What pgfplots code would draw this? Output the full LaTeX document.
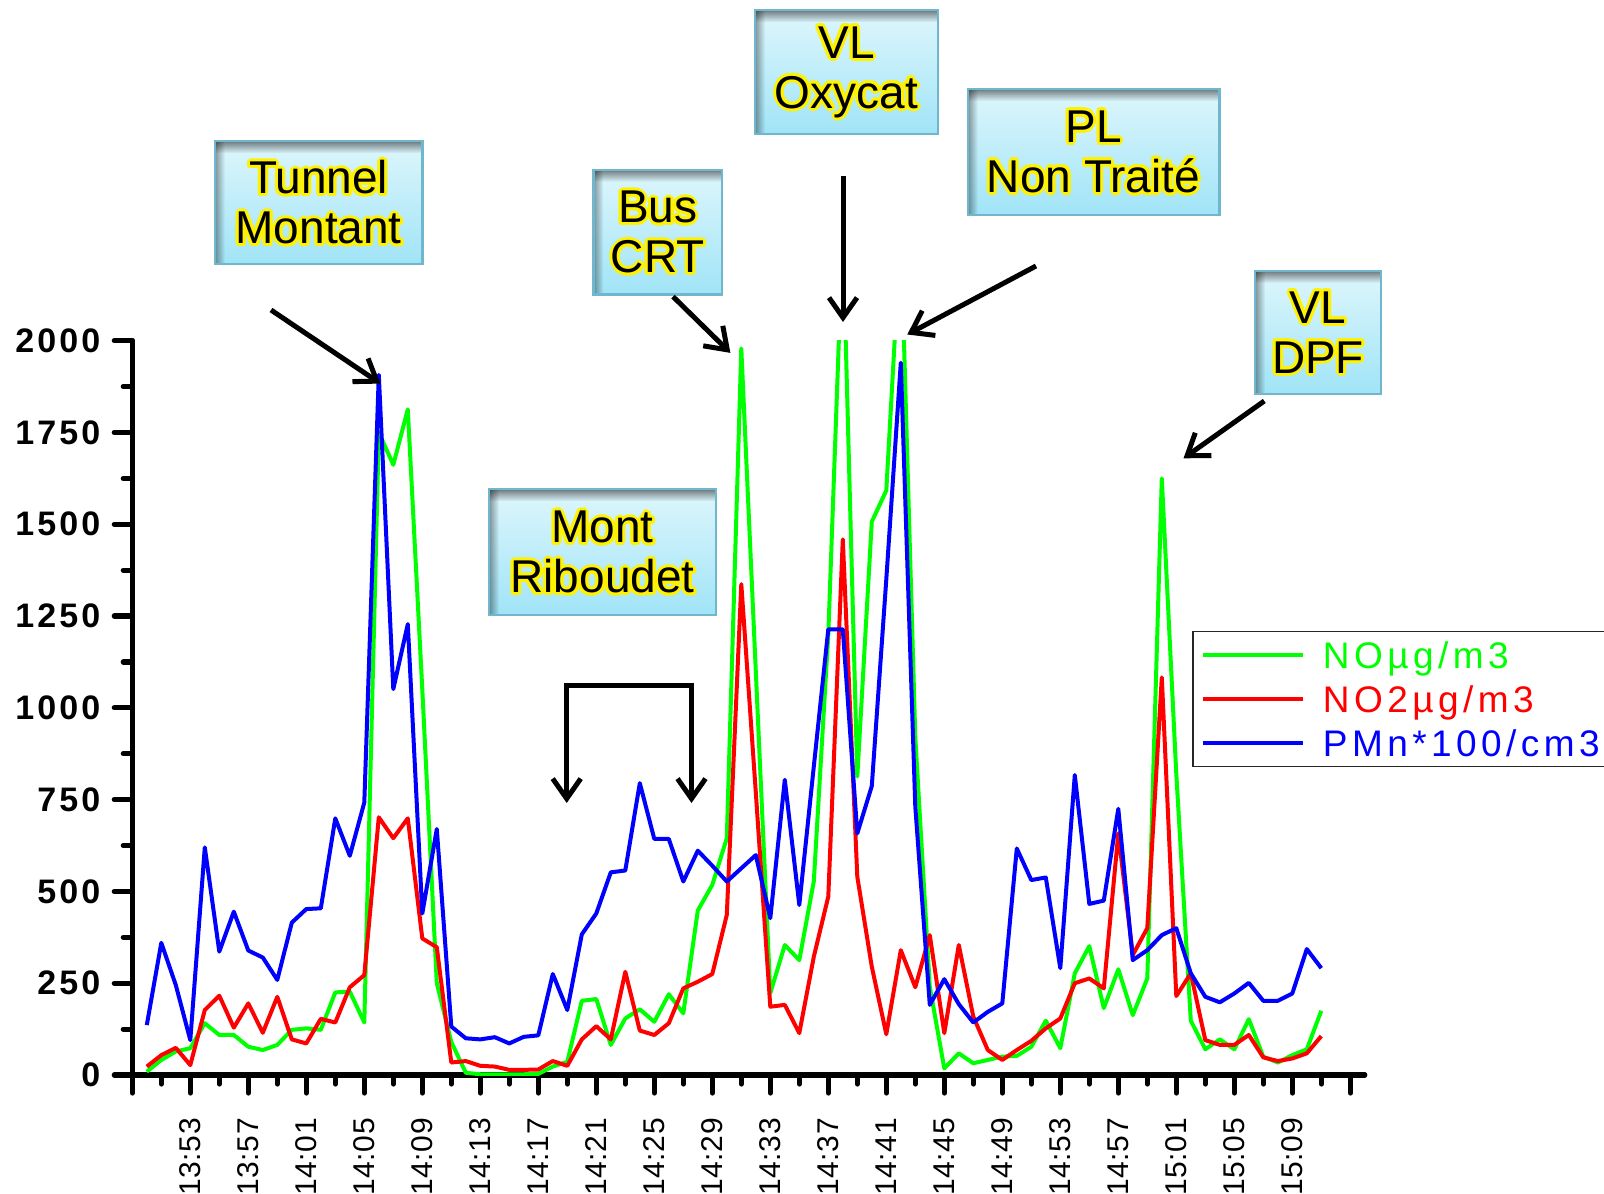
\documentclass[border=0pt]{standalone}
\usepackage{pgfplots}
\usepackage{pgfplotstable}
\pgfplotsset{compat=1.18}
\usepackage{fontspec}
\setmainfont{Liberation Sans}
\usetikzlibrary{arrows.meta,fadings}
\definecolor{cgreen}{RGB}{0,255,0}
\definecolor{cred}{RGB}{255,0,0}
\definecolor{cblue}{RGB}{0,0,255}
\definecolor{boxtop}{RGB}{222,246,252}
\definecolor{boxbot}{RGB}{160,228,247}
\definecolor{boxedge}{RGB}{112,182,204}

\pgfplotstableread{
m NO NO2 PM
1 9 23 136
2 41 54 360
3 64 74 245
4 73 27 95
5 141 177 620
6 109 216 336
7 109 129 445
8 77 195 339
9 68 115 320
10 82 213 259
11 123 97 415
12 127 86 452
13 123 153 454
14 225 143 699
15 227 239 597
16 143 272 742
17 1750 702 1907
18 1662 645 1051
19 1813 699 1228
20 1050 372 440
21 250 348 670
22 90 34 132
23 6 38 100
24 2 25 97
25 2 23 103
26 2 14 86
27 2 14 104
28 3 15 108
29 23 38 275
30 36 25 177
31 202 97 383
32 207 133 440
33 82 97 552
34 154 281 557
35 179 121 795
36 145 109 643
37 220 141 643
38 168 236 527
39 448 254 611
40 518 275 570
41 645 436 527
42 1979 1337 563
43 1100 770 599
44 223 186 427
45 354 191 804
46 313 114 463
47 527 322 840
48 1200 486 1214
49 2300 1459 1214
50 813 540 658
51 1507 295 787
52 1592 111 1350
53 2300 340 1940
54 920 239 731
55 240 381 191
56 18 114 261
57 59 354 193
58 32 159 143
59 41 68 172
60 50 41 195
61 52 68 617
62 77 93 531
63 148 127 538
64 73 154 291
65 277 250 817
66 351 263 466
67 182 236 475
68 288 658 725
69 163 327 313
70 263 400 340
71 1625 1083 381
72 820 215 400
73 148 277 277
74 70 95 213
75 97 82 198
76 70 82 222
77 152 109 251
78 50 48 202
79 34 38 202
80 54 45 222
81 70 59 343
82 175 106 291
}\datatable

\newcommand\annofont{\fontsize{23}{25}\selectfont}
\newcommand\annobox[6]{%
  \shade[top color=boxtop,bottom color=boxbot] (#1,#2) rectangle (#3,#4);
  \fill[black,opacity=0.5,path fading=south] (#1,#2) rectangle (#3,#2+12);
  \fill[black,opacity=0.4,path fading=east] (#1,#2) rectangle (#1+10,#4);
  \draw[boxedge,line width=1.2pt] (#1,#2) rectangle (#3,#4);
  \foreach \a in {0,30,...,330}{%
    \node[text=yellow,align=center,font=\annofont,xshift={1.5pt*cos(\a)},yshift={1.5pt*sin(\a)}] at ({(#1+#3)/2},{(#2+#4)/2}) {#5\\#6};}
  \node[text=black,align=center,font=\annofont] at ({(#1+#3)/2},{(#2+#4)/2}) {#5\\#6};
}

\begin{document}
\begin{tikzpicture}
\begin{axis}[
  at={(0pt,0pt)}, anchor=south west,
  scale only axis, width=616.25pt, height=367.15pt,
  xmin=0, xmax=85, ymin=0, ymax=2000,
  axis lines=left,
  axis line style={-, line width=2.6pt, line cap=round},
  tick align=outside,
  major tick length=9pt, minor tick length=4.5pt,
  every tick/.style={black, line width=2.6pt, line cap=round},
  xtick={0,4,...,84},
  xticklabels={,13:53,13:57,14:01,14:05,14:09,14:13,14:17,14:21,14:25,14:29,14:33,14:37,14:41,14:45,14:49,14:53,14:57,15:01,15:05,15:09,},
  minor x tick num=1,
  ytick={0,250,...,2000},
  minor y tick num=1,
  /pgf/number format/1000 sep={},
  /pgf/number format/assume math mode=true,
  xticklabel style={rotate=90, anchor=east, font=\fontsize{15}{15}\selectfont\addfontfeatures{LetterSpace=2}, xshift=-9pt},
  yticklabel style={font=\bfseries\fontsize{17}{17}\selectfont\addfontfeatures{LetterSpace=9}, xshift=-3.5pt},
  clip mode=individual,
  legend style={at={(0.86,0.605)}, anchor=north west, draw=black!85, line width=0.7pt,
    font=\fontsize{18.5}{18.5}\selectfont\addfontfeatures{LetterSpace=12},
    row sep=1.5pt, inner xsep=4pt, inner ysep=1.5pt,
    nodes={text height=15.5pt, text depth=2pt, inner ysep=1.5pt, inner xsep=3pt}},
  legend cell align=left,
  legend image code/.code={\draw[#1] (2pt,0pt) -- (52pt,0pt);},
  every axis plot/.append style={line width=2pt, line join=round},
]
\addplot[cgreen, no markers] table[x=m, y=NO] {\datatable};
\addplot[cred, no markers] table[x=m, y=NO2] {\datatable};
\addplot[cblue, no markers] table[x=m, y=PM] {\datatable};
\legend{\hspace*{6pt}\textcolor{cgreen}{NOµg/m3}\hspace*{60pt},\hspace*{6pt}\textcolor{cred}{NO2µg/m3},\hspace*{6pt}\textcolor{cblue}{PMn*100/cm3}}
\end{axis}
\begin{scope}[x=0.5pt,y=-0.5pt,shift={(-66.15pt,537.5pt)}]
\annobox{214.8}{141.2}{422.5}{263.9}{Tunnel}{Montant}
\annobox{593.3}{169.8}{722.2}{294.6}{Bus}{CRT}
\annobox{754.9}{10.2}{938}{134}{VL}{Oxycat}
\annobox{967.7}{89}{1219.3}{214.8}{PL}{Non Traité}
\annobox{1255.1}{271}{1381}{393.8}{VL}{DPF}
\annobox{489}{489.3}{716}{615}{Mont}{Riboudet}
\tikzset{arr/.style={line width=2.5pt, -{Straight Barb[length=10pt,width=14pt,line width=2.5pt]}}}
\draw[arr] (271,310) -- (380.5,383.6);
\draw[arr] (673,296.6) -- (730.4,352.9);
\draw[arr] (843,176) -- (843,322);
\draw[arr] (1036,266) -- (907.3,334.5);
\draw[arr] (1264.3,401) -- (1183.5,458.3);
\draw[line width=2.5pt, {Straight Barb[length=10pt,width=14pt,line width=2.5pt]}-{Straight Barb[length=10pt,width=14pt,line width=2.5pt]}] (566.7,803) -- (566.7,685.5) -- (691.5,685.5) -- (691.5,803);
\pgfresetboundingbox
\path[use as bounding box] (0,0) rectangle (1604,1193);
\end{scope}
\end{tikzpicture}
\end{document}
